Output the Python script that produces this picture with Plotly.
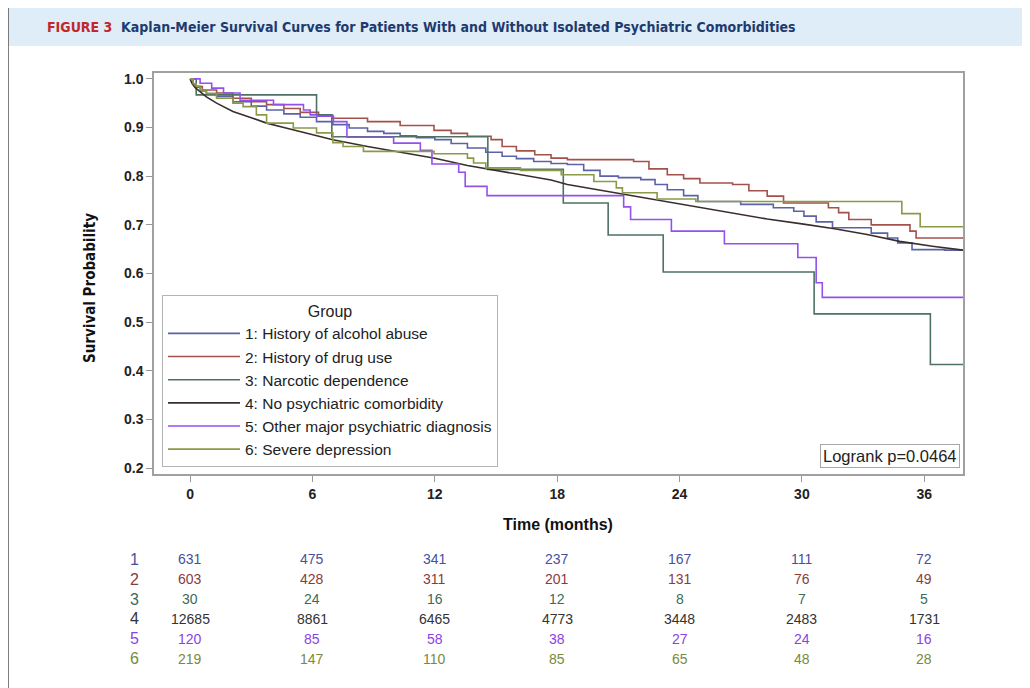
import plotly.graph_objects as go

# ---------------- data ----------------
group_names = ["1: History of alcohol abuse", "2: History of drug use", "3: Narcotic dependence",
               "4: No psychiatric comorbidity", "5: Other major psychiatric diagnosis", "6: Severe depression"]

t1 = [0, 0.15, 0.3, 0.5, 0.8, 1.3, 2.1, 3.0, 3.75, 4.6, 5.4, 6.2, 7.0, 7.8, 8.7, 9.5, 10.3, 11.1, 12.0,
      12.8, 13.6, 14.5, 15.3, 16.0, 16.85, 17.7, 18.5, 19.3, 20.1, 21.0, 22.1, 22.8, 23.4, 24.2, 24.9,
      27.0, 28.6, 29.6, 30.1, 30.7, 31.5, 33.4, 34.2, 34.7, 35.4, 37.0, 37.9]
s1 = [1.0, 0.99, 0.983, 0.975, 0.97, 0.964, 0.953, 0.944, 0.936, 0.928, 0.921, 0.912, 0.906, 0.899, 0.892,
      0.888, 0.883, 0.879, 0.875, 0.867, 0.858, 0.849, 0.841, 0.836, 0.830, 0.826, 0.824, 0.812, 0.800,
      0.797, 0.793, 0.783, 0.772, 0.760, 0.748, 0.742, 0.735, 0.728, 0.718, 0.706, 0.694, 0.683, 0.673,
      0.663, 0.649, 0.648, 0.648]

t2 = [0, 0.15, 0.3, 0.6, 1.3, 2.1, 3.0, 3.75, 4.6, 5.4, 6.3, 7.0, 8.7, 10.3, 11.96, 12.8, 13.6, 14.76,
      15.3, 16.0, 16.9, 17.7, 18.5, 21.75, 22.5, 23.4, 24.2, 25.0, 26.6, 27.4, 28.3, 29.1, 31.3, 31.8,
      32.3, 33.4, 35.3, 35.6, 37.9]
s2 = [1.0, 0.99, 0.984, 0.977, 0.971, 0.960, 0.953, 0.947, 0.939, 0.931, 0.925, 0.919, 0.912, 0.904,
      0.894, 0.888, 0.882, 0.875, 0.861, 0.852, 0.844, 0.837, 0.834, 0.830, 0.815, 0.803, 0.795, 0.786,
      0.783, 0.770, 0.759, 0.745, 0.735, 0.725, 0.711, 0.700, 0.687, 0.673, 0.673]

t3 = [0, 0.3, 6.2, 6.95, 14.6, 18.3, 20.5, 23.2, 30.6, 36.3, 37.9]
s3 = [1.0, 0.967, 0.926, 0.881, 0.814, 0.745, 0.679, 0.603, 0.517, 0.413, 0.413]

t4 = [0, 0.1, 0.25, 0.5, 0.8, 1.3, 2.1, 3.0, 3.75, 4.6, 5.4, 6.2, 7.0, 8.7, 10.3, 12.0, 13.6, 15.3,
      17.7, 18.5, 20.0, 21.75, 23.4, 25.0, 26.6, 28.3, 30.0, 31.6, 33.2, 34.8, 36.4, 37.9]
s4 = [1.0, 0.99, 0.982, 0.974, 0.963, 0.950, 0.933, 0.920, 0.909, 0.900, 0.892, 0.883, 0.875, 0.861,
      0.849, 0.837, 0.822, 0.810, 0.792, 0.783, 0.772, 0.759, 0.747, 0.735, 0.724, 0.712, 0.702, 0.692,
      0.680, 0.666, 0.656, 0.648]

t5 = [0, 0.49, 1.06, 1.64, 2.45, 4.09, 5.56, 5.89, 6.22, 7.03, 7.69, 9.98, 11.29, 11.86, 13.17, 13.49,
      14.56, 21.26, 21.6, 23.6, 26.2, 29.8, 30.7, 31.0, 37.9]
s5 = [1.0, 0.991, 0.981, 0.971, 0.956, 0.947, 0.936, 0.926, 0.923, 0.912, 0.880, 0.868, 0.853, 0.825,
      0.808, 0.779, 0.760, 0.737, 0.711, 0.687, 0.661, 0.633, 0.581, 0.551, 0.551]

t6 = [0, 0.15, 0.3, 0.49, 0.8, 1.3, 2.1, 2.6, 3.25, 3.75, 5.06, 6.2, 7.0, 7.5, 8.5, 11.96, 13.6, 13.9,
      14.5, 16.2, 18.2, 19.8, 20.9, 21.2, 22.9, 24.8, 34.9, 35.8, 37.9]
s6 = [1.0, 0.99, 0.985, 0.977, 0.97, 0.96, 0.95, 0.943, 0.926, 0.909, 0.899, 0.889, 0.869, 0.861, 0.851,
      0.846, 0.837, 0.827, 0.817, 0.812, 0.803, 0.789, 0.776, 0.766, 0.753, 0.748, 0.723, 0.696, 0.696]

risk_times = [0, 6, 12, 18, 24, 30, 36]
risk1 = [631, 475, 341, 237, 167, 111, 72]
risk2 = [603, 428, 311, 201, 131, 76, 49]
risk3 = [30, 24, 16, 12, 8, 7, 5]
risk4 = [12685, 8861, 6465, 4773, 3448, 2483, 1731]
risk5 = [120, 85, 58, 38, 27, 24, 16]
risk6 = [219, 147, 110, 85, 65, 48, 28]

y_ticks = [0.2, 0.3, 0.4, 0.5, 0.6, 0.7, 0.8, 0.9, 1.0]
logrank_text = "Logrank p=0.0464"

# ---------------- styling ----------------
line_colors = ["#5b62a8", "#a4514b", "#4f7263", "#3a2e2c", "#9350ee", "#8a9a48"]
risk_colors = ["#4a4f9c", "#8c3b3b", "#3d6b5a", "#333333", "#8b3fe6", "#7a8a3a"]
FONT = "Liberation Sans, Arial, sans-serif"
NARROW = "Liberation Sans Narrow, DejaVu Sans Condensed, Liberation Sans, sans-serif"

# page body has an 8px margin: the figure is drawn 8px in from the top-left
OFF = 8
W, H = 1030 - OFF, 688 - OFF
L, R, T, B = 154 - OFF, 67, 73 - OFF, 214
PW, PH = W - L - R, H - T - B


def px(xp):
    return (xp - OFF - L) / PW


def py(yp):
    return (H - B - (yp - OFF)) / PH


series_t = [t1, t2, t3, t4, t5, t6]
series_s = [s1, s2, s3, s4, s5, s6]
risks = [risk1, risk2, risk3, risk4, risk5, risk6]

fig = go.Figure()
for i in range(6):
    fig.add_trace(go.Scatter(
        x=series_t[i], y=series_s[i], mode="lines", name=group_names[i],
        line=dict(color=line_colors[i], width=1.6, shape="linear" if i == 3 else "hv"),
    ))

annotations = []
annotations.append(dict(
    xref="paper", yref="paper", x=px(45), y=py(27), xanchor="left", yanchor="middle", showarrow=False,
    text="<b><span style='color:#c0282d'>FIGURE 3</span>&nbsp;&nbsp;Kaplan-Meier Survival Curves for Patients With and Without Isolated Psychiatric Comorbidities</b>",
    font=dict(family=NARROW, size=14, color="#1f3a6e"),
))
annotations.append(dict(
    xref="paper", yref="paper", x=px(90), y=py(288), xanchor="center", yanchor="middle", showarrow=False,
    text="<b>Survival Probability</b>", textangle=-90, font=dict(family=NARROW, size=15, color="#111111"),
))
annotations.append(dict(
    xref="paper", yref="paper", x=px(558), y=py(524), xanchor="center", yanchor="middle", showarrow=False,
    text="<b>Time (months)</b>", font=dict(family=FONT, size=16, color="#111111"),
))
annotations.append(dict(
    xref="paper", yref="paper", x=px(960), y=py(468), xanchor="right", yanchor="bottom", showarrow=False,
    text=logrank_text, font=dict(family=FONT, size=16.5, color="#222222"),
    bordercolor="#a8a8a8", borderwidth=1, borderpad=2, bgcolor="white",
))
row_y = [559, 579, 599, 618.5, 638.5, 658.5]
for i in range(6):
    annotations.append(dict(
        xref="paper", yref="paper", x=px(134), y=py(row_y[i]), xanchor="center", yanchor="middle",
        showarrow=False, text=str(i + 1), font=dict(family=FONT, size=16, color=risk_colors[i]),
    ))
    for tt, n in zip(risk_times, risks[i]):
        annotations.append(dict(
            xref="x", yref="paper", x=tt, y=py(row_y[i]), xanchor="center", yanchor="middle",
            showarrow=False, text=str(n), font=dict(family=FONT, size=14, color=risk_colors[i]),
        ))

shapes = [
    dict(type="rect", xref="paper", yref="paper", x0=px(8), x1=px(1040), y0=py(46), y1=py(4),
         fillcolor="#deedf8", line=dict(width=0), layer="below"),
    dict(type="line", xref="paper", yref="paper", x0=px(8), x1=px(8), y0=py(8), y1=py(700),
         line=dict(color="#555555", width=1.5)),
]

fig.update_layout(
    width=W, height=H, margin=dict(l=L, r=R, t=T, b=B),
    paper_bgcolor="white", plot_bgcolor="white",
    font=dict(family=FONT, color="#222222"),
    showlegend=True,
    legend=dict(
        x=px(162), y=py(467), xanchor="left", yanchor="bottom",
        bgcolor="white", bordercolor="#b4b4b4", borderwidth=1,
        font=dict(family=FONT, size=15.5, color="#222222"),
        title=dict(text="Group", side="top center", font=dict(family=FONT, size=16, color="#222222")),
        tracegroupgap=0, itemclick=False, itemwidth=72,
    ),
    xaxis=dict(
        range=[-1.77, 37.9], tickvals=risk_times, ticks="outside", ticklen=6, tickcolor="#999999",
        showline=True, linecolor="#a0a0a0", linewidth=1.5, mirror=True, showgrid=False, zeroline=False,
        tickfont=dict(family=FONT, size=14, color="#222222", weight="bold"),
    ),
    yaxis=dict(
        range=[0.188, 1.012], tickvals=y_ticks, tickformat=".1f", ticks="outside", ticklen=6,
        tickcolor="#999999", showline=True, linecolor="#a0a0a0", linewidth=1.5, mirror=True,
        showgrid=False, zeroline=False,
        tickfont=dict(family=FONT, size=14, color="#222222", weight="bold"),
    ),
    annotations=annotations,
    shapes=shapes,
)

fig.write_html("out.html")
